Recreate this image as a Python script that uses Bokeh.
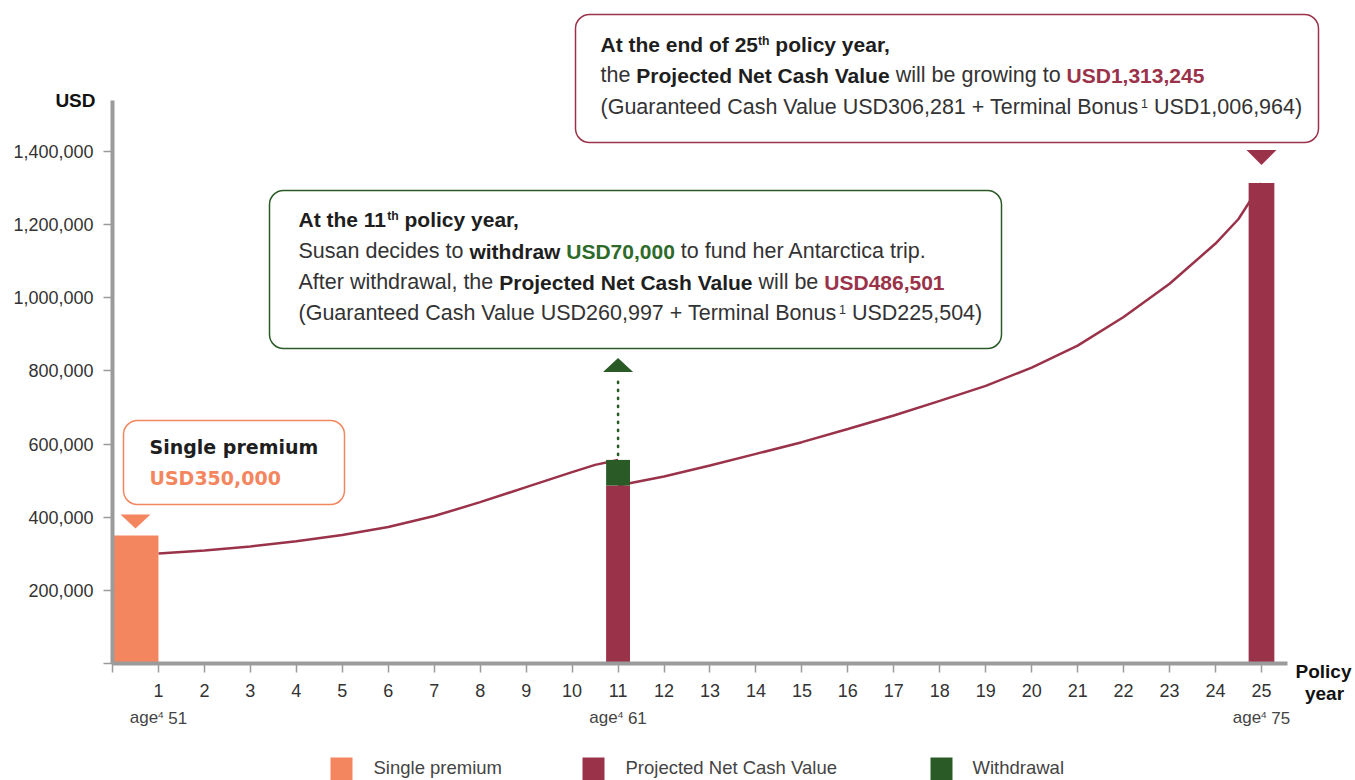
from bokeh.plotting import figure
from bokeh.models import Range1d, FixedTicker, NumeralTickFormatter, Label, BoxAnnotation
from bokeh.embed import file_html
from bokeh.resources import INLINE

# ---------------- data ----------------
policy_years = list(range(0, 26))
x_tick_labels = {y: (str(y) if y > 0 else "") for y in policy_years}
y_ticks = [0, 200000, 400000, 600000, 800000, 1000000, 1200000, 1400000]
y_tick_labels = {t: ("" if t == 0 else f"{t:,}") for t in y_ticks}

premium_left = [0]
premium_right = [1]
single_premium = [350000]

withdraw_year = [11]
ncv_after_withdrawal = [486501]
withdrawal_amount = [70000]
gcv_year11 = 260997
tb_year11 = 225504

final_year = [25]
final_ncv = [1313245]
gcv_year25 = 306281
tb_year25 = 1006964

curve_pre_years = [1, 2, 3, 4, 5, 6, 7, 8, 9, 10, 10.5, 11]
curve_pre_ncv = [300700, 309000, 320000, 334000, 351000, 373000, 403000, 441000,
                 482000, 523000, 543000, 556501]
curve_post_years = [11, 12, 13, 14, 15, 16, 17, 18, 19, 20, 21, 22, 23, 24, 24.5, 25]
curve_post_ncv = [486501, 511000, 541000, 573000, 605000, 641000, 678000, 718000,
                  759000, 809000, 869000, 947000, 1038000, 1148000, 1215000, 1313245]

age_labels = {1: "51", 11: "61", 25: "75"}
legend_labels = ["Single premium", "Projected Net Cash Value", "Withdrawal"]

# ---------------- style ----------------
SALMON = "#F4865F"
MAROON = "#9A3249"
GREEN = "#2A5B27"
GREEN_TXT = "#2E6A2A"
AXIS = "#9B9B9B"
DARK = "#1E1E1E"
REG = "#333333"
FONT = "Liberation Sans"

W, H = 1355, 780
PX_PER_YEAR = 45.96
USD_PER_PX = 2733.5
AXIS_X_PX = 112     # canvas x of year 0
AXIS_Y_PX = 663     # canvas y of USD 0
BASE_FIX = 0.4      # rendered-baseline correction, in font sizes


def X(px):
    return (px - AXIS_X_PX) / PX_PER_YEAR


def Y(py):
    return (AXIS_Y_PX - py) * USD_PER_PX


def dY(px):
    return px * USD_PER_PX


def dX(px):
    return px / PX_PER_YEAR


p = figure(width=W, height=H,
           x_range=Range1d(X(0), X(W)),
           y_range=Range1d(Y(H), Y(0)),
           output_backend="svg", toolbar_location=None,
           min_border_left=0, min_border_right=0, min_border_top=0, min_border_bottom=0)
p.grid.visible = False
p.outline_line_color = None
p.background_fill_color = "white"
p.border_fill_color = "white"

xa = p.xaxis[0]
xa.fixed_location = 0
xa.ticker = FixedTicker(ticks=policy_years)
xa.major_label_overrides = x_tick_labels
xa.bounds = (0, X(1287))
ya = p.yaxis[0]
ya.fixed_location = 0
ya.ticker = FixedTicker(ticks=y_ticks)
ya.formatter = NumeralTickFormatter(format="0,0")
ya.major_label_overrides = y_tick_labels
ya.bounds = (0, Y(100))
for ax in (xa, ya):
    ax.axis_line_color = AXIS
    ax.axis_line_width = 4
    ax.major_tick_line_color = AXIS
    ax.major_tick_line_width = 1.5
    ax.major_tick_in = 0
    ax.major_tick_out = 9
    ax.minor_tick_line_color = None
    ax.major_label_text_font = FONT
    ax.major_label_text_font_size = "18px"
    ax.major_label_text_color = REG
xa.major_label_standoff = 11
ya.major_label_standoff = 10

# ---------------- marks ----------------
p.line(curve_pre_years, curve_pre_ncv, line_color=MAROON, line_width=2.5)
p.line(curve_post_years, curve_post_ncv, line_color=MAROON, line_width=2.5)

p.quad(left=premium_left, right=premium_right, bottom=[0], top=single_premium,
       fill_color=SALMON, line_color=None)
p.vbar(x=withdraw_year, width=0.52, bottom=0, top=ncv_after_withdrawal,
       fill_color=MAROON, line_color=None)
w_top = [a + b for a, b in zip(ncv_after_withdrawal, withdrawal_amount)]
p.vbar(x=withdraw_year, width=0.52, bottom=ncv_after_withdrawal, top=w_top,
       fill_color=GREEN, line_color=None)
p.vbar(x=final_year, width=0.56, bottom=0, top=final_ncv,
       fill_color=MAROON, line_color=None)

# pointers
pc = (premium_left[0] + premium_right[0]) / 2
sp = single_premium[0]
wx, wt = withdraw_year[0], w_top[0]
fx, fv = final_year[0], final_ncv[0]
p.patches(
    xs=[[pc - dX(15), pc + dX(15), pc],
        [wx - dX(15), wx + dX(15), wx],
        [fx - dX(15), fx + dX(15), fx]],
    ys=[[sp + dY(21), sp + dY(21), sp + dY(7)],
        [wt + dY(88), wt + dY(88), wt + dY(102)],
        [fv + dY(33), fv + dY(33), fv + dY(18)]],
    fill_color=[SALMON, GREEN, MAROON], line_color=None)
p.segment(x0=[wx], y0=[wt + dY(5)], x1=[wx], y1=[wt + dY(85)],
          line_color=GREEN, line_width=2.6, line_dash="1 7", line_cap="round")

# callout boxes
for (l, r, t, b, c) in [(123, 344, 420, 504, SALMON),
                        (269, 1001, 190, 348, GREEN),
                        (575, 1318, 14, 142, MAROON)]:
    p.add_layout(BoxAnnotation(left=X(l), right=X(r), top=Y(t), bottom=Y(b),
                               fill_color="white", fill_alpha=1.0,
                               line_color=c, line_alpha=1.0, line_width=1.5,
                               border_radius=14, level="overlay"))

# ---------------- rich text ----------------
REGW = dict(zip(" !\"#$%&'()*+,-./:;<=>?", [278, 278, 355, 556, 556, 889, 667, 191, 333, 333, 389, 584, 278, 333, 278, 278, 278, 278, 584, 584, 584, 556]))
REGW.update({d: 556 for d in "0123456789"})
REGW.update(dict(zip("ABCDEFGHIJKLMNOPQRSTUVWXYZ",
                     [667, 667, 722, 722, 667, 611, 778, 722, 278, 500, 667, 556, 833, 722, 778, 667, 778, 722, 667, 611, 722, 667, 944, 667, 667, 611])))
REGW.update(dict(zip("abcdefghijklmnopqrstuvwxyz",
                     [556, 556, 500, 556, 556, 278, 556, 556, 222, 222, 500, 222, 833, 556, 556, 556, 556, 333, 500, 278, 556, 500, 722, 500, 500, 500])))
BOLDW = dict(REGW)
BOLDW.update(dict(zip("ABCDEFGHIJKLMNOPQRSTUVWXYZ",
                      [722, 722, 722, 722, 667, 611, 778, 722, 278, 556, 722, 611, 833, 722, 778, 667, 778, 722, 667, 611, 722, 667, 944, 667, 667, 611])))
BOLDW.update(dict(zip("abcdefghijklmnopqrstuvwxyz",
                      [556, 611, 556, 611, 556, 333, 611, 611, 278, 278, 556, 278, 889, 611, 611, 611, 611, 389, 556, 333, 611, 556, 778, 556, 556, 500])))
KERN = {"Va": -40, "Te": -25, "Pr": -10}


def tw(s, bold, size):
    tab = BOLDW if bold else REGW
    w = sum(tab.get(ch, 556) for ch in s)
    w += sum(KERN.get(s[i:i + 2], 0) for i in range(len(s) - 1))
    return w / 1000.0 * size


def add_runs(x_page, base_page, runs, size, align="left", bold_size=None):
    bsize = bold_size or size

    def fs(bold, sup):
        b = bsize if bold else size
        return b * 0.58 if sup else b
    total = sum(tw(r[0], r[1], fs(r[1], r[3])) for r in runs)
    x = x_page - (total / 2 if align == "center" else (total if align == "right" else 0))
    for text, bold, color, sup in runs:
        f = fs(bold, sup)
        stripped = text.lstrip(" ")
        lead = tw(text[:len(text) - len(stripped)], bold, f)
        vis = stripped.rstrip(" ")
        base = base_page - (0.33 * size if sup else 0)
        if vis:
            p.add_layout(Label(x=X(x + lead), y=Y(base - BASE_FIX * f),
                               text=vis, text_font=FONT, text_font_size=f"{f:.1f}px",
                               text_font_style="bold" if bold else "normal",
                               text_color=color, text_baseline="alphabetic",
                               text_align="left", level="overlay"))
        x += tw(text, bold, f)


S, SB = 21.5, 21
# 25th year callout
add_runs(600, 52, [(f"At the end of {final_year[0]}", True, DARK, False), ("th", True, DARK, True),
                   (" policy year,", True, DARK, False)], S, bold_size=SB)
add_runs(600, 83, [("the ", False, REG, False), ("Projected Net Cash Value", True, DARK, False),
                   (" will be growing to ", False, REG, False),
                   (f"USD{final_ncv[0]:,}", True, MAROON, False)], S, bold_size=SB)
add_runs(600, 115, [(f"(Guaranteed Cash Value USD{gcv_year25:,} + Terminal Bonus", False, REG, False),
                    ("1", False, REG, True), (f" USD{tb_year25:,})", False, REG, False)], S, bold_size=SB)

# 11th year callout
add_runs(298, 227, [(f"At the {withdraw_year[0]}", True, DARK, False), ("th", True, DARK, True),
                    (" policy year,", True, DARK, False)], S, bold_size=SB)
add_runs(298, 259, [("Susan decides to ", False, REG, False), ("withdraw ", True, DARK, False),
                    (f"USD{withdrawal_amount[0]:,}", True, GREEN_TXT, False),
                    (" to fund her Antarctica trip.", False, REG, False)], S, bold_size=SB)
add_runs(298, 290, [("After withdrawal, the ", False, REG, False),
                    ("Projected Net Cash Value", True, DARK, False),
                    (" will be ", False, REG, False),
                    (f"USD{ncv_after_withdrawal[0]:,}", True, MAROON, False)], S, bold_size=SB)
add_runs(298, 321, [(f"(Guaranteed Cash Value USD{gcv_year11:,} + Terminal Bonus", False, REG, False),
                    ("1", False, REG, True), (f" USD{tb_year11:,})", False, REG, False)], S, bold_size=SB)

# single premium callout
for txt, col, base in [("Single premium", DARK, 454), (f"USD{single_premium[0]:,}", SALMON, 485)]:
    p.add_layout(Label(x=X(149), y=Y(base - BASE_FIX * 19), text=txt, text_font="DejaVu Sans",
                       text_font_style="bold", text_font_size="19px", text_color=col,
                       text_baseline="alphabetic", level="overlay"))

# axis titles
add_runs(95, 108, [("USD", True, "#111111", False)], 19, align="right")
add_runs(1323, 679, [("Policy", True, "#111111", False)], 19, align="center")
add_runs(1324, 701, [("year", True, "#111111", False)], 19, align="center")

# age labels
for yr, age in age_labels.items():
    cx = AXIS_X_PX + yr * PX_PER_YEAR
    add_runs(cx, 724, [("age", False, "#444444", False), ("4", False, "#444444", True),
                       (f" {age}", False, "#444444", False)], 17, align="center")

# legend
for (sx, tx, color, lab) in [(330, 373, SALMON, legend_labels[0]),
                             (582, 625, MAROON, legend_labels[1]),
                             (930, 972, GREEN, legend_labels[2])]:
    p.add_layout(BoxAnnotation(left=X(sx), right=X(sx + 22), top=Y(757), bottom=Y(780),
                               fill_color=color, fill_alpha=1.0, line_color=None, level="overlay"))
    add_runs(tx, 774, [(lab, False, "#444444", False)], 18.5)

open("out.html", "w").write(file_html(p, INLINE))
